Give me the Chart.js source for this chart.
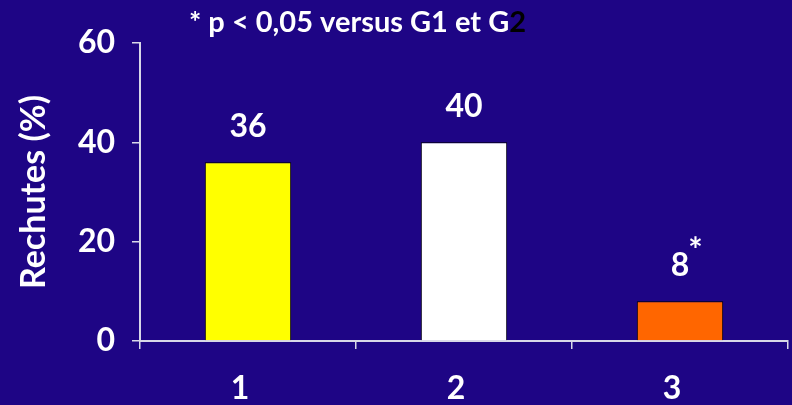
<!DOCTYPE html>
<html>
<head>
<meta charset="utf-8">
<script src="https://cdn.jsdelivr.net/npm/chart.js@4/dist/chart.umd.min.js"></script>
<style>
  html, body { margin: 0; padding: 0; background: #1e0585; }
  #wrap { width: 792px; height: 405px; position: relative; }
</style>
</head>
<body>
<div id="wrap"><canvas id="c"></canvas></div>
<script>
// Relapse rate per group
const groups = ["1", "2", "3"];
const rechutes = [36, 40, 8];
const valueLabels = ["36", "40", "8"];
const significance = ["", "", "*"];
const barColors = ["#ffff00", "#ffffff", "#ff6600"];
const yTicks = [0, 20, 40, 60];
const noteMain = "* p < 0,05 versus G1 et G";
const noteTail = "2";

const FONT = "Lato, 'Open Sans', sans-serif";

// Value labels above bars, with a superscript asterisk where significant
const valueLabelPlugin = {
  id: "valueLabels",
  afterDatasetsDraw(chart) {
    const ctx = chart.ctx;
    const meta = chart.getDatasetMeta(0);
    ctx.save();
    ctx.fillStyle = "#ffffff";
    ctx.textBaseline = "middle";
    meta.data.forEach((bar, i) => {
      ctx.font = "bold 32px " + FONT;
      ctx.textAlign = "center";
      const y = bar.y - 36;
      ctx.fillText(valueLabels[i], bar.x, y);
      if (significance[i]) {
        const w = ctx.measureText(valueLabels[i]).width;
        ctx.font = "bold 34px " + FONT;
        ctx.textAlign = "left";
        ctx.fillText(significance[i], bar.x + w / 2 - 1, y - 14);
      }
    });
    ctx.restore();
  }
};

// Note at the top, with the last character in black
const notePlugin = {
  id: "note",
  afterDraw(chart) {
    const ctx = chart.ctx;
    ctx.save();
    ctx.font = "bold 29px " + FONT;
    ctx.textBaseline = "middle";
    ctx.textAlign = "left";
    const x0 = 189, y0 = 23;
    ctx.fillStyle = "#ffffff";
    ctx.fillText(noteMain, x0, y0);
    const w = ctx.measureText(noteMain).width;
    ctx.fillStyle = "#000000";
    ctx.fillText(noteTail, x0 + w, y0);
    ctx.restore();
  }
};

new Chart(document.getElementById("c"), {
  type: "bar",
  data: {
    labels: groups,
    datasets: [{
      data: rechutes,
      backgroundColor: barColors,
      borderColor: "#000000",
      borderWidth: 1,
      barPercentage: 0.4,
      categoryPercentage: 1.0
    }]
  },
  options: {
    responsive: true,
    maintainAspectRatio: false,
    animation: false,
    layout: { padding: { left: 0, right: 4, top: 43, bottom: 0 } },
    plugins: {
      legend: { display: false },
      tooltip: { enabled: false }
    },
    scales: {
      x: {
        offset: true,
        grid: {
          offset: true,
          drawOnChartArea: false,
          drawTicks: true,
          tickLength: 8,
          color: "#d8d8e8",
          lineWidth: 1.5
        },
        border: { color: "#d8d8e8", width: 2 },
        ticks: {
          color: "#ffffff",
          font: { family: FONT, size: 32, weight: "bold" },
          padding: 20,
          labelOffset: -8
        },
        afterFit(scale) { scale.height = 64; }
      },
      y: {
        min: 0,
        max: 60,
        afterBuildTicks(scale) { scale.ticks = yTicks.map(v => ({ value: v })); },
        grid: {
          drawOnChartArea: false,
          drawTicks: true,
          tickLength: 8,
          color: "#d8d8e8",
          lineWidth: 1.5
        },
        border: { color: "#d8d8e8", width: 2 },
        ticks: {
          color: "#ffffff",
          font: { family: FONT, size: 32, weight: "bold" },
          padding: 17
        },
        title: {
          display: true,
          text: "Rechutes (%)",
          color: "#ffffff",
          font: { family: FONT, size: 34, weight: "bold" },
          padding: { top: 14, bottom: 0 }
        },
        afterFit(scale) { scale.width = 140; }
      }
    }
  },
  plugins: [valueLabelPlugin, notePlugin]
});
</script>
</body>
</html>
